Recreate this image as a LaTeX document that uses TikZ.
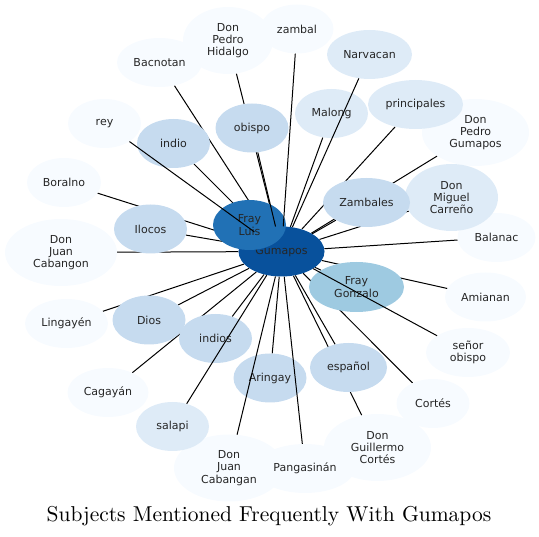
\documentclass[tikz,border=0pt]{standalone}
\usepackage{fontspec}
\usepackage{tikz}
\usetikzlibrary{shapes.geometric,backgrounds}
\newfontfamily\labelfont{DejaVu Sans}
\newfontfamily\titlefont{lmroman10-regular}[Extension=.otf]
\definecolor{hubblue}{HTML}{08519C}
\definecolor{blueA}{HTML}{2171B5}
\definecolor{blueB}{HTML}{9ECAE1}
\definecolor{blueC}{HTML}{C6DBEF}
\definecolor{blueD}{HTML}{DEEBF7}
\definecolor{blueE}{HTML}{F7FBFF}
\definecolor{inkgray}{HTML}{262626}

\begin{document}
\begin{tikzpicture}[
    x=1pt, y=-1pt,
    term/.style={ellipse, inner sep=0pt, minimum width=73pt, minimum height=49pt,
                 align=center, text=inkgray,
                 font=\labelfont\fontsize{11}{12.3}\selectfont},
    tall/.style={minimum height=67pt},
    tierA/.style={term, fill=blueA},
    tierB/.style={term, fill=blueB},
    tierC/.style={term, fill=blueC},
    tierD/.style={term, fill=blueD},
    tierE/.style={term, fill=blueE},
    link/.style={line width=1pt, black}
]
\useasboundingbox (0,0) rectangle (539,537);

% outer ring
\node[tierE, tall, minimum width=90pt] (hidalgo) at (228,40.5) {Don\\Pedro\\Hidalgo};
\node[tierE] (zambal) at (297,29) {zambal};
\node[tierE, minimum width=85pt] (bacnotan) at (159.5,62.5) {Bacnotan};
\node[tierE] (rey) at (104.5,123.5) {rey};
\node[tierE, minimum width=74pt] (boralno) at (64,182.5) {Boralno};
\node[tierE, tall, minimum width=112pt] (cabangon) at (61,252.5) {Don\\Juan\\Cabangon};
\node[tierE, minimum width=83pt] (lingayen) at (66.5,323.5) {Lingayén};
\node[tierE, minimum width=81pt] (cagayan) at (108,392.5) {Cagayán};
\node[tierE, tall, minimum width=110pt] (cabangan) at (229,468) {Don\\Juan\\Cabangan};
\node[tierE, tall, minimum width=107pt] (guillermo) at (377.5,447.5) {Don\\Guillermo\\Cortés};
\node[tierE, minimum width=99pt] (pangasinan) at (305,468.5) {Pangasinán};
\node[tierE] (cortes) at (433,403.5) {Cortés};
\node[tierE, minimum width=84pt] (senor) at (468,352.5) {señor\\obispo};
\node[tierE, minimum width=81pt] (amianan) at (485.5,297) {Amianan};
\node[tierE, minimum width=78pt] (balanac) at (496.5,237.5) {Balanac};
\node[tierE, tall, minimum width=107pt] (pedrogum) at (475.5,132.5) {Don\\Pedro\\Gumapos};

% middle ring
\node[tierD, tall, minimum width=93pt] (miguel) at (451.5,197.5) {Don\\Miguel\\Carreño};
\node[tierD, minimum width=85pt] (narvacan) at (369.5,54.5) {Narvacan};
\node[tierD] (malong) at (331.5,113.5) {Malong};
\node[tierD, minimum width=95pt] (principales) at (415.5,104.5) {principales};
\node[tierD] (salapi) at (172.5,426.5) {salapi};
\node[tierC] (indio) at (173.5,143.5) {indio};
\node[tierC] (obispo) at (252,128) {obispo};
\node[tierC, minimum width=87pt] (zambales) at (366.5,202.5) {Zambales};
\node[tierC] (ilocos) at (150.5,229) {Ilocos};
\node[tierC] (dios) at (149,320) {Dios};
\node[tierC] (indios) at (215.5,338.5) {indios};
\node[tierC] (aringay) at (270,378) {Aringay};
\node[tierC, minimum width=77pt] (espanol) at (348.5,367.5) {español};

% hub
\node[term, fill=hubblue, minimum width=86pt, minimum height=50pt] (gumapos) at (281.5,251.5) {Gumapos};
\node[tierA, minimum height=50pt] (frayluis) at (249.5,225) {Fray\\Luis};
\node[tierB, minimum width=95pt, minimum height=50pt] (fraygonzalo) at (356.5,287) {Fray\\Gonzalo};

% links hidden behind the nodes
\begin{pgfonlayer}{background}
\draw[link] (hidalgo) -- (gumapos);
\draw[link] (bacnotan) -- (gumapos);
\draw[link] (indio) -- (gumapos);
\draw[link] (boralno) -- (gumapos);
\draw[link] (ilocos) -- (gumapos);
\draw[link] (cabangon) -- (gumapos);
\draw[link] (lingayen) -- (gumapos);
\draw[link] (dios) -- (gumapos);
\draw[link] (cagayan) -- (gumapos);
\draw[link] (indios) -- (gumapos);
\draw[link] (aringay) -- (gumapos);
\draw[link] (espanol) -- (gumapos);
\draw[link] (guillermo) -- (gumapos);
\draw[link] (cortes) -- (gumapos);
\draw[link] (amianan) -- (gumapos);
\draw[link] (balanac) -- (gumapos);
\draw[link] (miguel) -- (gumapos);
\draw[link] (pedrogum) -- (gumapos);
\draw[link] (principales) -- (gumapos);
\draw[link] (zambales) -- (gumapos);
\draw[link] (malong) -- (gumapos);
\draw[link] (frayluis) -- (gumapos);
\draw[link] (fraygonzalo) -- (gumapos);
\end{pgfonlayer}

% links drawn over the nodes
\draw[link] (rey) -- (gumapos);
\draw[link] (obispo) -- (gumapos);
\draw[link] (zambal) -- (gumapos);
\draw[link] (narvacan) -- (gumapos);
\draw[link] (senor) -- (gumapos);
\draw[link] (salapi) -- (gumapos);
\draw[link] (cabangan) -- (gumapos);
\draw[link] (pangasinan) -- (gumapos);

\node[anchor=base, font=\titlefont\fontsize{21.5}{24}\selectfont] (title) at (269,522)
    {Subjects Mentioned Frequently With Gumapos};
\end{tikzpicture}
\end{document}
